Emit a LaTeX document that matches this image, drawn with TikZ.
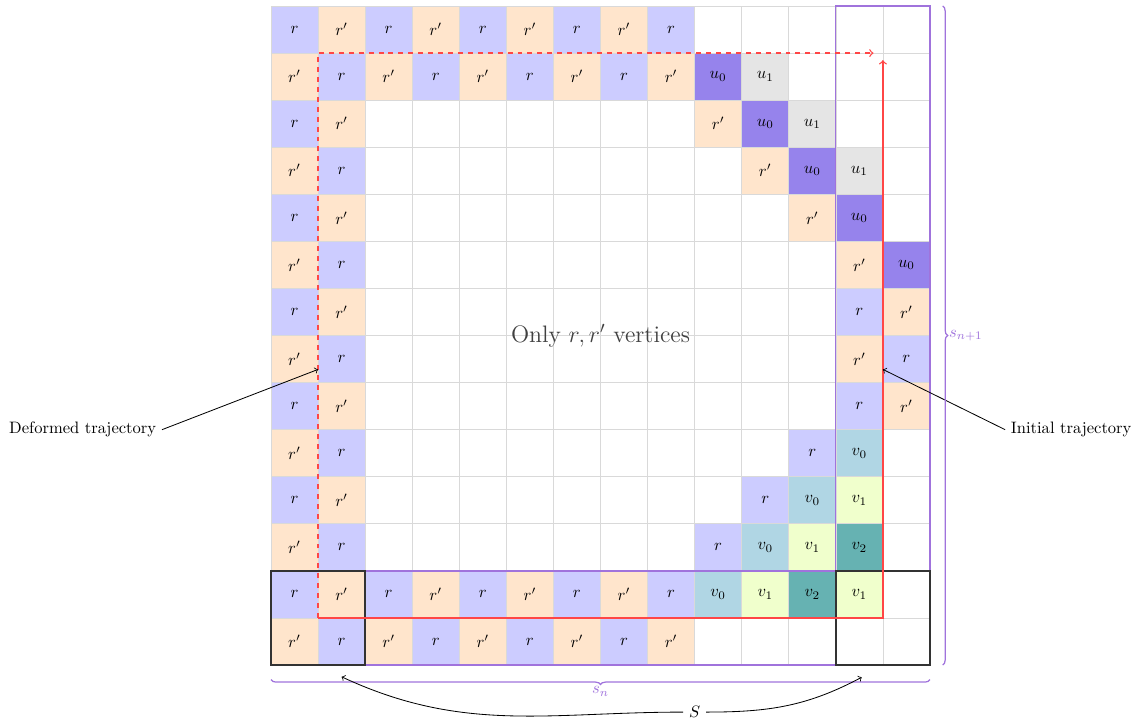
\documentclass[tikz,border=0pt]{standalone}
\usetikzlibrary{decorations.pathreplacing}
\definecolor{rcol}{RGB}{204,204,255}
\definecolor{rpcol}{RGB}{255,229,204}
\definecolor{ucol}{RGB}{150,131,236}
\definecolor{uicol}{RGB}{229,229,229}
\definecolor{vzcol}{RGB}{176,214,228}
\definecolor{vicol}{RGB}{240,255,204}
\definecolor{vtcol}{RGB}{102,178,178}
\definecolor{purpcol}{RGB}{160,115,220}
\definecolor{trajred}{RGB}{255,70,70}
\tikzset{
  cellbox/.style={minimum size=1cm, inner sep=0pt, outer sep=0pt},
  gridline/.style={draw=black!15, line width=0.4pt},
  purpline/.style={draw=purpcol, line width=0.75pt},
  blackline/.style={draw=black!80, line width=0.8pt},
  trajline/.style={draw=trajred, line width=0.8pt},
  pointer/.style={->, line width=0.5pt},
  bracestyle/.style={purpline, decorate, decoration={brace, amplitude=3pt}},
}
\newcommand\rrcell[2]{%
  \pgfmathtruncatemacro\cellparity{mod(#1+#2,2)}%
  \ifnum\cellparity=0
    \node[cellbox, fill=rcol] (c#1-#2) at (#1+0.5,13.5-#2) {$r$};%
  \else
    \node[cellbox, fill=rpcol] (c#1-#2) at (#1+0.5,13.5-#2) {$r'$};%
  \fi}
\newcommand\spcell[4]{%
  \node[cellbox, fill=#3] (s#1-#2) at (#1+0.5,13.5-#2) {$#4$};}
\begin{document}
\begin{tikzpicture}[x=1cm,y=1cm]
\useasboundingbox (-5.757,-1.168) rectangle (18.313,14.128);
% border r / r' cells
\foreach \R in {0,1,12,13} {\foreach \c in {0,...,8} {\rrcell{\c}{\R}}}
\foreach \R in {2,...,11} {\foreach \c in {0,1} {\rrcell{\c}{\R}}}
\foreach \c/\R in {9/2,10/3,11/4,12/5,12/6,13/6,12/7,13/7,12/8,13/8,11/9,10/10,9/11} {\rrcell{\c}{\R}}
% u cells
\foreach \c/\R in {9/1,10/2,11/3,12/4,13/5} {\spcell{\c}{\R}{ucol}{u_0}}
\foreach \c/\R in {10/1,11/2,12/3} {\spcell{\c}{\R}{uicol}{u_1}}
% v cells
\foreach \c/\R in {12/9,11/10,10/11,9/12} {\spcell{\c}{\R}{vzcol}{v_0}}
\foreach \c/\R in {12/10,11/11,10/12,12/12} {\spcell{\c}{\R}{vicol}{v_1}}
\foreach \c/\R in {12/11,11/12} {\spcell{\c}{\R}{vtcol}{v_2}}
% grid
\draw[gridline] (0,0) grid (14,14);
% centre text
\node[text=black!75, font=\Large] (only) at (7,7) {Only $r,r'$ vertices};
% frames
\draw[purpline] (12,0) rectangle (14,14);
\draw[purpline] (0,0) rectangle (14,2);
\draw[blackline] (0,0) rectangle (2,2);
\draw[blackline] (12,0) rectangle (14,2);
% trajectories
\coordinate (start) at (1,1);
\coordinate (dcorner) at (1,13);
\coordinate (dend) at (12.8,13);
\coordinate (icorner) at (13,1);
\coordinate (iend) at (13,12.85);
\draw[trajline, dashed, ->] (start) -- (dcorner) -- (dend);
\draw[trajline, ->] (start) -- (icorner) -- (iend);
% labels with pointers
\node (deformed) at (-4,5) {Deformed trajectory};
\node (initial) at (17,5) {Initial trajectory};
\coordinate (dtip) at (1,6.28);
\coordinate (itip) at (13,6.28);
\draw[pointer] (deformed.east) -- (dtip);
\draw[pointer] (initial.west) -- (itip);
% braces
\coordinate (rbtop) at (14.27,14);
\coordinate (rbbot) at (14.27,0);
\draw[bracestyle] (rbtop) -- (rbbot) node[midway, anchor=west, xshift=2.5pt, inner sep=1pt, text=purpcol] (snp) {$s_{n+1}$};
\coordinate (bbl) at (0,-0.31);
\coordinate (bbr) at (14,-0.31);
\draw[bracestyle, decoration={brace, amplitude=3pt, mirror}] (bbl) -- (bbr) node[midway, anchor=north, yshift=-3pt, inner sep=1pt, text=purpcol] (sn) {$s_n$};
% S arrows
\node (S) at (9,-1) {$S$};
\coordinate (sl) at (1.5,-0.25);
\coordinate (sr) at (12.55,-0.26);
\draw[pointer] (S.west) to[out=180, in=-25] (sl);
\draw[pointer] (S.east) to[out=0, in=-152] (sr);
\end{tikzpicture}
\end{document}
